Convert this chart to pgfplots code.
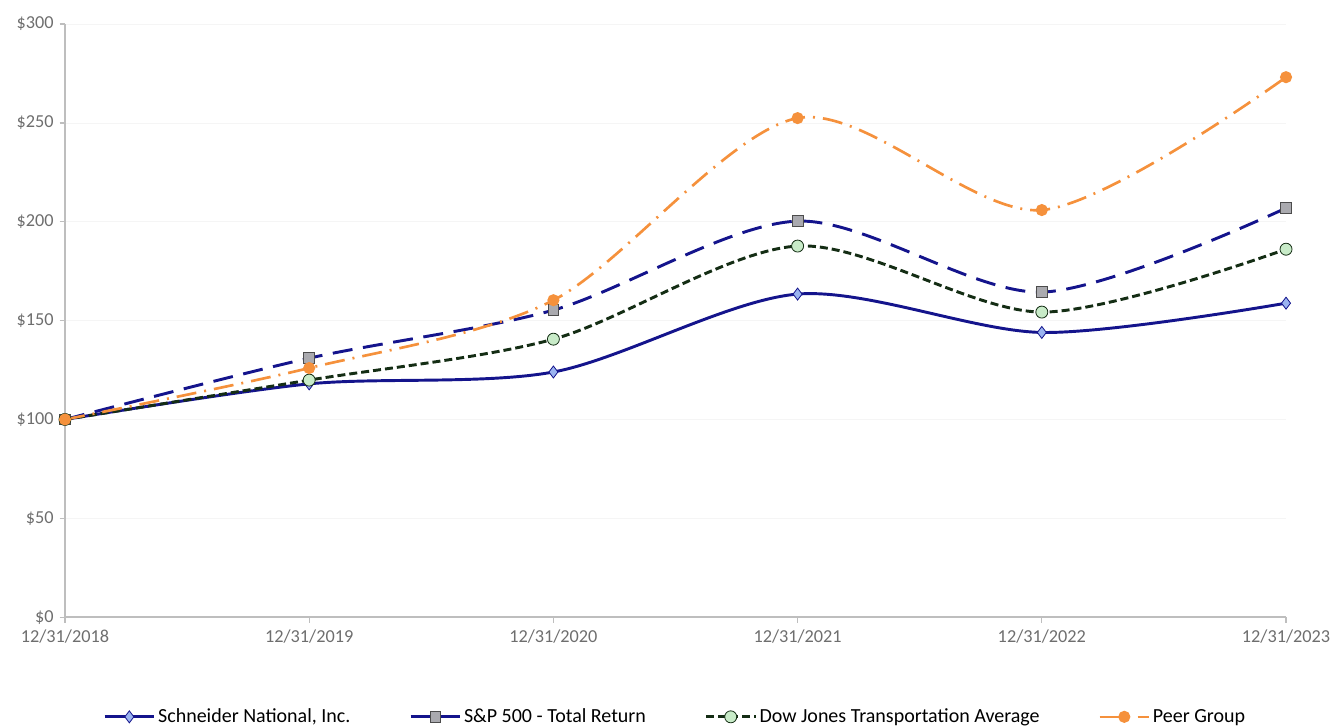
\documentclass[border=0pt]{standalone}
\usepackage{fontspec}
\setmainfont{Carlito}
\usepackage{pgfplots}
\pgfplotsset{compat=1.18}
\definecolor{navy}{RGB}{20,20,140}
\definecolor{diafill}{RGB}{155,180,240}
\definecolor{sqfill}{RGB}{170,170,175}
\definecolor{dkgreen}{RGB}{20,45,20}
\definecolor{cfill}{RGB}{200,235,200}
\definecolor{peer}{RGB}{245,145,60}
\definecolor{axgray}{RGB}{190,190,190}
\definecolor{txtgray}{RGB}{110,110,110}
\begin{document}
\begin{tikzpicture}
\begin{axis}[
  name=ax,
  scale only axis,
  width=916pt, height=445pt,
  xmin=0, xmax=5, ymin=0, ymax=300,
  axis lines*=left,
  axis line style={axgray, line width=1.2pt},
  xtick={0,1,2,3,4,5},
  xticklabels={12/31/2018,12/31/2019,12/31/2020,12/31/2021,12/31/2022,12/31/2023},
  ytick={0,50,100,150,200,250,300},
  yticklabels={\$0,\$50,\$100,\$150,\$200,\$250,\$300},
  tick align=outside,
  major tick length=4pt,
  tick style={axgray, line width=1pt},
  ymajorgrids, grid style={gray!8},
  ticklabel style={font=\fontsize{13.7}{15}\selectfont, text=txtgray},
  xticklabel style={yshift=-2pt},
  yticklabel style={xshift=-1pt},
  legend style={at={(0.5,-0.168)}, anchor=center, draw=none, legend columns=4,
    font=\fontsize{15}{17}\selectfont, /tikz/every even column/.append style={column sep=42pt}},
  legend cell align=left,
  legend image code/.code={%
    \draw[mark repeat=2,mark phase=2,#1] plot coordinates {(0cm,0cm) (0.65cm,0cm) (1.3cm,0cm)};},
  clip=false,
]
\addplot[navy, line width=2.2pt, smooth, mark=diamond*, mark size=4.5pt,
  mark options={solid, fill=diafill, draw=navy, line width=0.6pt}]
  coordinates {(0,100) (1,118) (2,124) (3,163.4) (4,144) (5,158.8)};
\addlegendentry{Schneider National, Inc.}
\addplot[navy, line width=2.2pt, smooth, dash pattern=on 15pt off 8pt, mark=square*, mark size=4pt,
  mark options={solid, fill=sqfill, draw=black!70, line width=0.6pt}]
  coordinates {(0,100) (1,131) (2,155.3) (3,200.3) (4,164.4) (5,206.9)};
\addlegendentry{S\&P 500 - Total Return}
\addplot[dkgreen, line width=2.2pt, smooth, dash pattern=on 6pt off 3pt, mark=*, mark size=4.5pt,
  mark options={solid, fill=cfill, draw=dkgreen, line width=0.6pt}]
  coordinates {(0,100) (1,119.9) (2,140.6) (3,187.7) (4,154.3) (5,186.1)};
\addlegendentry{Dow Jones Transportation Average}
\addplot[peer, line width=2pt, smooth, dash pattern=on 15pt off 6pt on 1.5pt off 6pt, mark=*, mark size=3.5pt,
  mark options={solid, fill=peer, draw=peer}]
  coordinates {(0,100) (1,126) (2,160.3) (3,252.4) (4,205.9) (5,273.1)};
\addlegendentry{Peer Group}
\end{axis}
\pgfresetboundingbox
\path[use as bounding box] ([shift={(-48.75pt,-82.5pt)}]ax.south west) rectangle ([shift={(39.75pt,18pt)}]ax.north east);
\end{tikzpicture}
\end{document}
